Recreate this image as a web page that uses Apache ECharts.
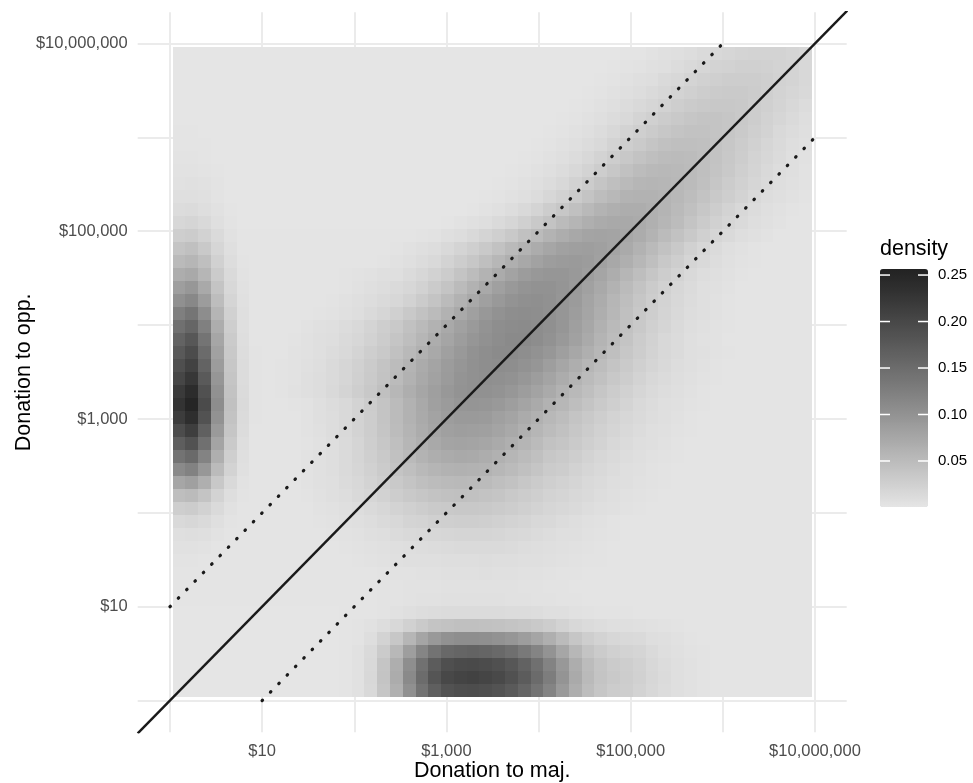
<!DOCTYPE html>
<html>
<head>
<meta charset="utf-8">
<script src="https://cdn.jsdelivr.net/npm/echarts@6/dist/echarts.min.js"></script>
<style>
html,body{margin:0;padding:0;background:#fff;}
#chart{width:973px;height:783px;}
</style>
</head>
<body>
<div id="chart"></div>
<script>
// ---- data (log10 dollars) ----
const tickValues = [1, 3, 5, 7];
const tickLabels = ['$10', '$1,000', '$100,000', '$10,000,000'];
const gridValues = [0, 1, 2, 3, 4, 5, 6, 7];
const xRange = [-0.35, 7.344];
const yRange = [-0.338, 7.332];
const rasterX = [0.03, 6.965];
const rasterY = [0.04, 6.966];
const densityRange = [0.0005, 0.2565];
const legendTicks = [0.05, 0.10, 0.15, 0.20, 0.25];
const diagLine = [[-0.35, -0.35], [7.35, 7.35]];
const upperDotted = [[0, 1], [6, 7]];
const lowerDotted = [[1, 0], [7, 6]];
// density estimates, in thousandths; rows top (high opp.) to bottom
const densityRows = [
[1,1,1,1,1,1,1,1,1,1, 1,1,1,1,1,1,1,1,1,1, 1,1,1,1,1,1,1,1,1,1, 1,1,1,1,1,2,2,4,6,8, 10,13,16,18,20,22,22,21,19,17],
[1,1,1,1,1,1,1,1,1,1, 1,1,1,1,1,1,1,1,1,1, 1,1,1,1,1,1,1,1,1,1, 1,1,1,1,2,3,4,6,8,11, 14,18,21,23,25,25,24,22,20,16],
[1,1,1,1,1,1,1,1,1,1, 1,1,1,1,1,1,1,1,1,1, 1,1,1,1,1,1,1,1,1,1, 1,1,1,2,3,5,7,9,13,16, 20,24,26,28,29,28,26,23,20,16],
[1,1,1,1,1,1,1,1,1,1, 1,1,1,1,1,1,1,1,1,1, 1,1,1,1,1,1,1,1,1,1, 1,1,2,3,5,7,10,13,17,22, 25,29,31,32,32,30,26,22,18,14],
[1,1,1,1,1,1,1,1,1,1, 1,1,1,1,1,1,1,1,1,1, 1,1,1,1,1,1,1,1,1,1, 1,2,3,5,7,11,14,18,23,27, 31,34,35,35,33,29,25,20,16,11],
[1,1,1,1,1,1,1,1,1,1, 1,1,1,1,1,1,1,1,1,1, 1,1,1,1,1,1,1,1,1,1, 2,3,5,8,11,15,20,25,30,34, 37,39,39,37,33,29,23,18,13,9],
[2,2,1,1,1,1,1,1,1,1, 1,1,1,1,1,1,1,1,1,1, 1,1,1,1,1,1,1,1,1,2, 3,5,8,11,16,21,26,31,36,40, 42,42,40,37,32,26,21,15,11,7],
[2,2,2,1,1,1,1,1,1,1, 1,1,1,1,1,1,1,1,1,1, 1,1,1,1,1,1,1,1,2,3, 5,7,11,15,21,27,32,38,43,45, 46,44,41,36,30,24,18,13,9,6],
[3,3,2,1,1,1,1,1,1,1, 1,1,1,1,1,1,1,1,1,1, 1,1,1,1,1,1,1,2,3,5, 7,11,16,22,28,35,41,46,49,50, 49,45,41,35,29,22,17,12,8,5],
[4,4,3,2,1,1,1,1,1,1, 1,1,1,1,1,1,1,1,1,1, 1,1,1,1,1,1,2,3,5,7, 11,16,22,29,36,43,49,53,54,53, 50,45,40,33,26,20,15,10,7,4],
[5,6,5,3,1,1,1,1,1,1, 1,1,1,1,1,1,1,1,1,1, 1,1,1,1,1,2,3,5,7,11, 16,23,30,38,45,52,56,58,57,54, 50,44,37,30,24,18,13,9,6,4],
[7,8,6,3,1,1,1,1,1,1, 1,1,1,1,1,1,1,1,1,1, 1,1,1,1,2,3,5,8,11,17, 23,31,39,48,54,60,62,62,59,54, 48,41,34,27,21,15,10,7,5,3],
[11,12,9,5,2,1,1,1,1,1, 1,1,1,1,1,1,1,1,1,1, 1,1,1,2,4,6,10,15,20,28, 36,44,53,60,65,67,67,64,59,52, 44,36,29,22,16,11,8,5,3,2],
[17,19,15,8,3,1,1,1,1,1, 1,1,1,1,1,1,1,1,1,1, 1,2,4,6,9,13,18,25,33,41, 50,58,65,70,73,72,70,64,57,49, 40,31,24,18,13,9,6,4,2,2],
[27,30,23,13,5,2,2,2,2,2, 2,2,2,2,2,2,2,2,2,3, 4,7,10,14,20,26,34,43,51,60, 68,74,78,80,79,75,69,60,51,42, 33,25,18,13,9,6,4,2,2,2],
[40,44,34,18,7,2,2,2,2,2, 2,2,2,2,2,2,2,3,5,7, 10,14,20,26,34,42,52,60,69,76, 82,85,86,84,79,71,62,52,42,33, 24,17,12,8,5,3,2,2,2,2],
[52,57,45,24,10,3,2,2,2,2, 2,2,2,2,2,2,3,5,7,11, 15,21,28,36,45,55,65,74,81,87, 90,91,88,82,74,65,55,45,35,27, 19,14,10,6,4,3,2,2,2,2],
[67,73,57,31,13,4,2,2,2,2, 2,2,2,3,4,5,7,8,12,17, 23,30,39,49,60,70,80,88,93,96, 95,92,86,77,67,57,47,37,28,21, 15,10,7,5,3,2,2,2,2,2],
[86,94,73,40,16,5,2,2,2,2, 2,2,2,3,5,7,10,13,17,23, 31,40,51,62,73,83,92,98,101,101, 97,91,82,72,61,50,41,31,24,17, 12,8,6,4,2,2,2,2,2,2],
[103,113,88,48,19,6,2,2,2,2, 2,2,3,5,7,10,13,17,23,31, 40,51,61,73,83,92,99,103,104,102, 96,89,79,69,57,47,37,29,21,16, 11,7,5,3,2,2,2,2,2,2],
[125,138,107,58,24,7,2,2,2,2, 2,3,4,6,9,13,18,25,33,42, 51,62,73,83,93,100,105,107,106,102, 96,87,77,66,55,44,35,27,20,14, 10,7,5,3,2,2,2,2,2,2],
[144,158,123,67,27,8,2,2,2,2, 4,6,8,11,15,20,27,34,43,52, 62,72,82,91,99,105,108,109,107,103, 95,85,75,63,52,42,33,25,19,13, 9,6,4,3,2,2,2,2,2,2],
[162,178,139,76,31,9,2,2,2,3, 5,7,9,13,17,23,30,38,47,57, 67,77,87,96,102,107,110,110,107,100, 92,82,71,59,49,39,30,23,16,12, 8,5,4,2,2,2,2,2,2,2],
[176,194,151,82,33,10,3,2,2,4, 5,8,11,15,20,27,34,43,53,63, 73,83,92,100,105,109,109,106,101,94, 85,75,65,55,45,36,29,22,16,12, 8,6,4,3,2,2,2,2,2,2],
[189,208,162,88,36,11,3,2,3,4, 6,9,13,18,24,31,40,49,59,70, 79,88,96,102,106,107,105,101,95,86, 76,66,56,48,40,32,25,19,14,10, 7,5,3,2,2,2,2,2,2,2],
[203,224,174,95,38,11,3,2,3,4, 7,10,13,18,25,32,41,51,62,72, 81,90,98,102,104,103,100,94,87,79, 69,59,51,43,35,28,22,16,12,9, 6,4,3,2,2,2,2,2,2,2],
[219,241,187,102,41,12,3,2,3,5, 7,10,14,20,27,35,44,55,66,76, 85,93,99,102,102,99,94,87,80,71, 61,53,45,37,30,24,18,13,10,7, 5,3,2,2,2,2,2,2,2,2],
[230,252,196,107,43,13,3,2,2,3, 4,7,11,15,22,30,40,51,62,73, 83,90,95,97,96,92,86,79,71,62, 55,47,39,32,26,20,15,11,8,6, 4,3,2,2,2,2,2,2,2,2],
[216,238,185,101,41,12,3,2,2,2, 4,7,10,15,21,29,39,50,61,71, 80,87,91,91,89,84,78,70,63,54, 48,40,33,27,22,17,13,10,7,5, 3,2,2,2,2,2,2,2,2,2],
[194,214,166,91,37,11,2,2,2,2, 4,6,10,14,21,28,38,49,59,69, 77,83,86,85,83,78,72,64,57,49, 43,36,30,24,19,15,11,8,6,4, 3,2,2,2,2,2,2,2,2,2],
[169,186,145,79,32,9,2,2,2,2, 3,5,9,13,19,27,36,46,56,65, 73,78,80,79,76,71,65,58,50,42, 38,32,26,21,16,12,9,7,5,3, 2,2,2,2,2,2,2,2,2,2],
[140,153,119,65,26,8,2,2,2,2, 4,6,9,13,19,26,34,43,52,60, 66,70,72,71,68,63,57,50,44,36, 32,27,22,17,13,10,7,5,4,3, 2,2,2,2,2,2,2,2,2,2],
[110,121,94,51,21,6,2,2,2,2, 4,6,9,13,18,24,31,39,46,53, 58,62,63,62,60,55,50,44,38,31, 28,23,18,14,11,8,6,4,3,2, 2,2,2,2,2,2,2,2,2,2],
[76,83,65,35,14,4,2,2,2,2, 4,6,8,12,16,21,27,33,40,45, 49,52,53,52,50,46,42,36,31,26, 23,19,15,12,9,7,5,4,3,2, 2,2,2,2,2,2,2,2,2,2],
[47,51,40,22,9,3,2,2,2,2, 3,5,7,10,14,18,23,28,33,37, 41,43,44,43,41,38,34,30,26,21, 19,16,13,10,7,5,4,3,2,2, 2,2,2,2,2,2,2,2,2,2],
[27,30,23,13,5,2,2,2,2,2, 2,4,5,7,10,13,17,21,25,29, 32,34,35,35,33,31,28,25,21,18, 16,13,10,8,6,4,3,2,2,2, 2,2,2,2,2,2,2,2,2,2],
[15,17,13,7,3,2,2,2,2,2, 2,3,4,6,8,10,13,16,20,22, 25,26,27,27,26,24,22,19,16,14, 11,9,6,5,3,2,2,2,2,2, 2,2,2,2,2,2,2,2,2,2],
[8,9,7,4,2,2,2,2,2,2, 2,2,3,4,5,7,9,12,14,16, 17,18,19,19,19,18,16,14,12,10, 8,7,5,4,3,2,2,2,2,2, 2,2,2,2,2,2,2,2,2,2],
[5,5,4,2,2,2,2,2,2,2, 2,2,2,3,4,5,6,8,9,10, 11,12,13,13,13,13,12,10,9,8, 6,5,4,3,2,2,2,2,2,2, 2,2,2,2,2,2,2,2,2,2],
[3,3,2,2,2,2,2,2,2,2, 2,2,2,2,3,4,5,6,7,7, 8,9,9,9,10,9,9,8,7,6, 5,4,3,3,2,2,2,2,2,2, 2,2,2,2,2,2,2,2,2,2],
[2,2,2,2,2,2,2,2,2,2, 2,2,2,2,2,2,3,4,4,5, 5,6,6,6,7,6,6,5,5,4, 3,3,2,2,2,2,2,2,2,2, 2,2,2,2,2,2,2,2,2,2],
[2,2,2,2,2,2,2,2,2,2, 2,2,2,2,2,2,3,3,4,4, 4,5,5,5,5,5,5,4,4,3, 3,2,2,2,2,2,2,2,2,2, 2,2,2,2,2,2,2,2,2,2],
[2,2,2,2,2,2,2,2,2,2, 2,2,2,2,2,2,3,3,4,5, 5,6,6,6,6,6,5,5,4,4, 3,3,2,2,2,2,2,2,2,2, 2,2,2,2,2,2,2,2,2,2],
[1,1,1,1,1,1,1,1,1,1, 1,1,1,2,2,2,3,5,8,10, 11,12,12,12,12,12,11,11,10,8, 7,5,4,3,3,3,2,2,2,2, 2,2,2,2,2,2,2,2,2,2],
[1,1,1,1,1,1,1,1,1,1, 1,1,1,2,3,5,10,16,24,32, 39,42,44,44,43,42,40,37,33,28, 22,16,12,10,8,7,6,5,4,3, 2,2,2,2,2,2,2,2,2,2],
[1,1,1,1,1,1,1,1,1,1, 1,1,1,2,3,9,21,36,57,77, 92,102,105,106,104,101,95,87,77,65, 50,37,27,21,17,15,13,9,7,5, 3,2,2,2,2,2,2,2,2,2],
[1,1,1,1,1,1,1,1,1,1, 1,1,1,2,5,13,31,54,86,117, 141,156,160,162,159,154,146,133,118,99, 76,55,40,31,25,22,19,13,9,6, 4,3,2,2,2,2,2,2,2,2],
[1,1,1,1,1,1,1,1,1,1, 1,1,1,2,5,15,38,66,105,143, 172,190,196,197,194,188,178,163,144,120, 93,68,49,38,31,27,23,16,11,8, 5,3,2,2,2,2,2,2,2,2],
[1,1,1,1,1,1,1,1,1,1, 1,1,1,2,5,16,40,69,111,150, 181,200,206,208,204,198,187,171,151,127, 98,71,52,40,33,29,24,17,12,8, 5,3,2,2,2,2,2,2,2,2],
[1,1,1,1,1,1,1,1,1,1, 1,1,1,2,5,15,37,64,103,140, 168,186,191,193,190,184,174,159,141,118, 91,66,48,37,30,27,22,16,11,7, 5,3,2,2,2,2,2,2,2,2]
];

// ---- build cells ----
const nRows = densityRows.length, nCols = densityRows[0].length;
const dX = (rasterX[1] - rasterX[0]) / nCols;
const dY = (rasterY[1] - rasterY[0]) / nRows;
const cells = [];
densityRows.forEach(function (row, j) {
  row.forEach(function (v, i) {
    const x0 = rasterX[0] + i * dX;
    const y1 = rasterY[1] - j * dY;
    cells.push([x0, x0 + dX, y1 - dY, y1, v / 1000]);
  });
});

const FONT = '"Liberation Sans", Arial, Helvetica, sans-serif';
const grayStops = ['#e5e5e5','#cfcfcf','#bababa','#a5a5a5','#909090','#7c7c7c','#696969','#565656','#444444','#323232','#222222'];
function tickLabel(v) {
  const k = tickValues.indexOf(Math.round(v));
  return k >= 0 ? tickLabels[k] : '';
}

const chart = echarts.init(document.getElementById('chart'));
const mainAxisCommon = {
  type: 'value',
  nameLocation: 'middle',
  nameMoveOverlap: false,
  nameTextStyle: { fontSize: 21.5, color: '#000', fontFamily: FONT },
  axisLine: { show: false },
  axisTick: { show: false, customValues: gridValues },
  axisLabel: { customValues: tickValues, formatter: tickLabel, fontSize: 16.5, color: '#4d4d4d', fontFamily: FONT },
  splitLine: { show: true, lineStyle: { color: '#ebebeb', width: 2 } }
};

const option = {
  animation: false,
  backgroundColor: '#fff',
  textStyle: { fontFamily: FONT },
  title: {
    text: 'density', left: 880, top: 238, padding: 0,
    textStyle: { fontSize: 21.5, fontWeight: 'normal', color: '#000', fontFamily: FONT }
  },
  grid: [
    { left: 137.7, top: 12.3, width: 709, height: 720, outerBoundsMode: 'none', containLabel: false },
    { left: 880, top: 269, width: 48, height: 238, outerBoundsMode: 'none', containLabel: false }
  ],
  xAxis: [
    Object.assign({}, mainAxisCommon, {
      gridIndex: 0, min: xRange[0], max: xRange[1],
      name: 'Donation to maj.', nameGap: 28,
      axisLabel: Object.assign({}, mainAxisCommon.axisLabel, { margin: 11 })
    }),
    { type: 'value', gridIndex: 1, show: false, min: 0, max: 1 }
  ],
  yAxis: [
    Object.assign({}, mainAxisCommon, {
      gridIndex: 0, min: yRange[0], max: yRange[1],
      name: 'Donation to opp.', nameGap: 103,
      axisLabel: Object.assign({}, mainAxisCommon.axisLabel, { margin: 10 })
    }),
    {
      type: 'value', gridIndex: 1, position: 'right', min: densityRange[0], max: densityRange[1],
      axisLine: { show: false },
      axisTick: { show: false },
      axisLabel: { customValues: legendTicks, formatter: function (v) { return v.toFixed(2); }, fontSize: 15, color: '#000', margin: 10, fontFamily: FONT },
      splitLine: { show: false }
    }
  ],
  visualMap: {
    type: 'continuous', seriesIndex: 0, dimension: 4,
    min: densityRange[0], max: densityRange[1],
    calculable: false, orient: 'vertical',
    left: 880, top: 269, itemWidth: 48, itemHeight: 238, padding: 0,
    text: null, hoverLink: false,
    inRange: { color: grayStops }
  },
  series: [
    {
      type: 'custom', xAxisIndex: 0, yAxisIndex: 0, silent: true,
      dimensions: ['x0', 'x1', 'y0', 'y1', 'density'],
      encode: { x: [0, 1], y: [2, 3] },
      data: cells,
      renderItem: function (params, api) {
        const p0 = api.coord([api.value(0), api.value(3)]);
        const p1 = api.coord([api.value(1), api.value(2)]);
        const x0 = Math.round(p0[0]), y0 = Math.round(p0[1]);
        const x1 = Math.round(p1[0]), y1 = Math.round(p1[1]);
        return { type: 'rect', shape: { x: x0, y: y0, width: x1 - x0, height: y1 - y0 }, style: { fill: api.visual('color') } };
      }
    },
    {
      type: 'line', xAxisIndex: 0, yAxisIndex: 0, data: upperDotted, symbol: 'none', silent: true, z: 6,
      lineStyle: { color: '#1a1a1a', width: 3.2, type: [0.6, 11.3], cap: 'round' }
    },
    {
      type: 'line', xAxisIndex: 0, yAxisIndex: 0, data: lowerDotted, symbol: 'none', silent: true, z: 6,
      lineStyle: { color: '#1a1a1a', width: 3.2, type: [0.6, 11.3], cap: 'round' }
    },
    {
      type: 'line', xAxisIndex: 0, yAxisIndex: 0, data: diagLine, symbol: 'none', silent: true, z: 7, clip: true,
      lineStyle: { color: '#1a1a1a', width: 2.4 }
    },
    {
      type: 'custom', xAxisIndex: 1, yAxisIndex: 1, silent: true, z: 20,
      data: legendTicks.map(function (v) { return [0, v]; }),
      encode: { x: 0, y: 1 },
      renderItem: function (params, api) {
        const pl = api.coord([0, api.value(1)]);
        const pr = api.coord([1, api.value(1)]);
        const st = { stroke: '#ffffff', lineWidth: 1.5 };
        return { type: 'group', children: [
          { type: 'line', shape: { x1: pl[0], y1: pl[1], x2: pl[0] + 10, y2: pl[1] }, style: st },
          { type: 'line', shape: { x1: pr[0] - 10, y1: pr[1], x2: pr[0], y2: pr[1] }, style: st }
        ] };
      }
    }
  ]
};
chart.setOption(option);
</script>
</body>
</html>
